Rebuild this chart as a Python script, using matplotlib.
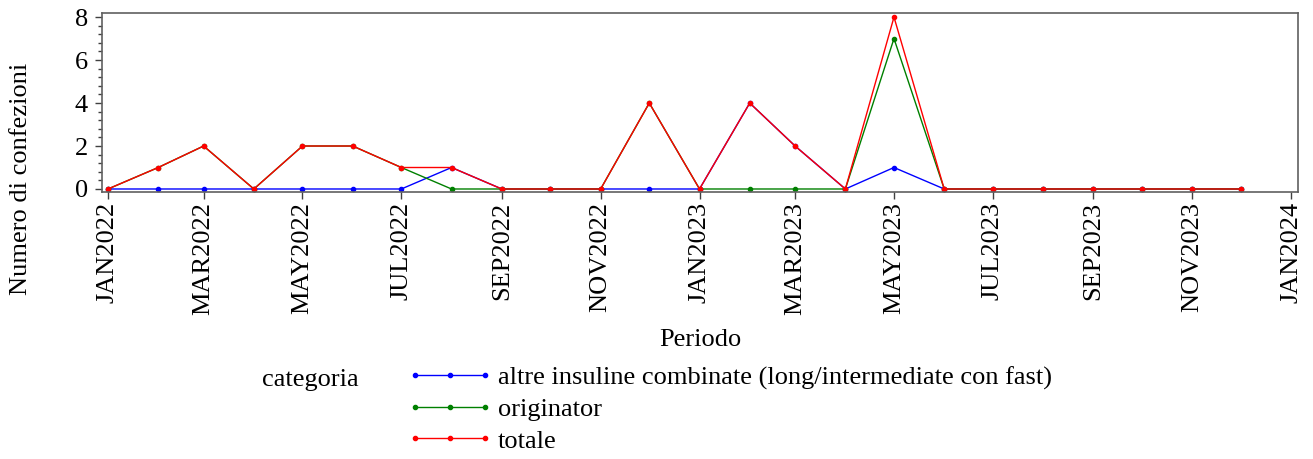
import matplotlib
matplotlib.use("Agg")
import matplotlib.pyplot as plt
import matplotlib.dates as mdates
from matplotlib.ticker import MultipleLocator, FuncFormatter
import numpy as np
import datetime as dt

months = ["2022-01", "2022-02", "2022-03", "2022-04", "2022-05", "2022-06",
          "2022-07", "2022-08", "2022-09", "2022-10", "2022-11", "2022-12",
          "2023-01", "2023-02", "2023-03", "2023-04", "2023-05", "2023-06",
          "2023-07", "2023-08", "2023-09", "2023-10", "2023-11", "2023-12"]
altre = [0, 0, 0, 0, 0, 0, 0, 1, 0, 0, 0, 0, 0, 4, 2, 0, 1, 0, 0, 0, 0, 0, 0, 0]
originator = [0, 1, 2, 0, 2, 2, 1, 0, 0, 0, 0, 4, 0, 0, 0, 0, 7, 0, 0, 0, 0, 0, 0, 0]
totale = [0, 1, 2, 0, 2, 2, 1, 1, 0, 0, 0, 4, 0, 4, 2, 0, 8, 0, 0, 0, 0, 0, 0, 0]
labels = ["altre insuline combinate (long/intermediate con fast)", "originator", "totale"]
colors = ["#0000ff", "#008000", "#ff0000"]

FS = 19
plt.rcParams['font.family'] = ['Liberation Serif', 'DejaVu Serif']
plt.rcParams['font.size'] = FS

W, H = 1313, 459
fig = plt.figure(figsize=(W / 100, H / 100), dpi=100)
ax = fig.add_axes([102 / W, 1 - 192 / H, (1298 - 102) / W, (192 - 13) / H])

dates = [dt.datetime.strptime(m, "%Y-%m") for m in months]
x = mdates.date2num(dates)
handles = []
for series, lab, c in zip([altre, originator, totale], labels, colors):
    h, = ax.plot(x, series, color=c, lw=1.0, marker='o', markersize=3, label=lab)
    handles.append(h)

x0 = mdates.date2num(dt.datetime(2022, 1, 1))
x1 = mdates.date2num(dt.datetime(2024, 1, 1))
ax.set_xlim(x0 - 3.7, x1 + 4.3)
ax.set_ylim(-0.14, 8.19)

ax.xaxis.set_major_locator(mdates.MonthLocator(bymonth=[1, 3, 5, 7, 9, 11]))
ax.xaxis.set_major_formatter(FuncFormatter(lambda v, p: mdates.num2date(v).strftime('%b%Y').upper()))
ax.yaxis.set_major_locator(MultipleLocator(2))
ax.yaxis.set_minor_locator(MultipleLocator(0.4))
for lab in ax.get_xticklabels():
    lab.set_rotation(90)

spine_c = '#606060'
for s in ax.spines.values():
    s.set_color(spine_c)
    s.set_linewidth(1.2)
ax.tick_params(axis='both', which='major', length=5, width=1, color='#404040', labelsize=FS)
ax.tick_params(axis='x', which='major', pad=2)
ax.tick_params(axis='y', which='major', pad=5)
ax.tick_params(axis='y', which='minor', length=3, width=1, color='#404040')

fig.text(21 / W, 1 - 179 / H, "Numero di confezioni", rotation=90, ha='center', va='center', fontsize=FS)
fig.text(700 / W, 1 - 340 / H, "Periodo", ha='center', va='center', fontsize=FS)

fig.text(262 / W, 1 - 380 / H, "categoria", ha='left', va='center', fontsize=FS)
fig.legend(handles=handles, labels=labels, loc='upper left',
           bbox_to_anchor=(407 / W, 1 - 366 / H), frameon=False, borderpad=0,
           numpoints=3, handlelength=3.25, handletextpad=0.2, labelspacing=0.3,
           borderaxespad=0, fontsize=FS)

fig.savefig("out.png", dpi=100)
